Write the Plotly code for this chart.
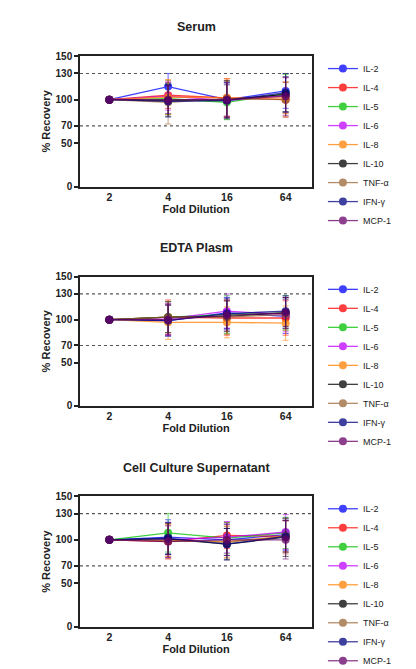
import plotly.graph_objects as go
from plotly.subplots import make_subplots

dilutions = ["2", "4", "16", "64"]
analytes = ["IL-2", "IL-4", "IL-5", "IL-6", "IL-8", "IL-10", "TNF-α", "IFN-γ", "MCP-1"]
colors = ["#0000ff", "#ff0000", "#00c000", "#c000ff", "#ff8000", "#000000", "#996633", "#000080", "#660066"]
titles = ["Serum", "EDTA Plasm", "Cell Culture Supernatant"]

serum = [[100,115,100,110],[100,105,102,100],[100,101,97,107],[100,104,99,105],[100,103,102,102],
         [100,99,100,106],[100,97,101,100],[100,98,99,108],[100,100,100,104]]
serum_err = [[0,15,20,20],[0,15,22,20],[0,18,20,22],[0,16,18,20],[0,20,22,18],
             [0,18,22,20],[0,25,20,20],[0,18,20,22],[0,16,20,22]]
plasma = [[100,99,108,104],[100,103,102,102],[100,103,106,108],[100,101,110,106],[100,97,97,96],
          [100,103,104,108],[100,103,103,106],[100,99,107,110],[100,100,105,108]]
plasma_err = [[0,18,18,20],[0,20,20,20],[0,18,22,20],[0,18,20,20],[0,20,18,20],
              [0,18,18,18],[0,18,20,18],[0,18,18,18],[0,18,18,18]]
super_ = [[100,103,100,106],[100,98,105,104],[100,108,102,108],[100,100,103,109],[100,99,98,104],
          [100,101,95,103],[100,99,97,104],[100,102,95,104],[100,98,100,100]]
super_err = [[0,20,18,18],[0,20,15,18],[0,22,18,18],[0,20,18,20],[0,18,18,18],
             [0,18,18,22],[0,20,18,20],[0,18,18,18],[0,18,18,22]]
datasets = [(serum, serum_err), (plasma, plasma_err), (super_, super_err)]

fig = make_subplots(rows=3, cols=1)
domains = [(0.737, 0.936), (0.404, 0.600), (0.067, 0.266)]
legnames = ["legend", "legend2", "legend3"]
F = "Arial"
for p, (vals, errs) in enumerate(datasets):
    r = p + 1
    for i, a in enumerate(analytes):
        fig.add_trace(go.Scatter(
            x=dilutions, y=vals[i], name=a, mode="lines+markers",
            line=dict(color=colors[i], width=1.3), opacity=0.75,
            marker=dict(color=colors[i], size=8),
            error_y=dict(type="data", array=errs[i], color=colors[i], thickness=0.8, width=3),
            legend=legnames[p]), row=r, col=1)
    xa = "xaxis" if r == 1 else f"xaxis{r}"
    ya = "yaxis" if r == 1 else f"yaxis{r}"
    fig.layout[xa].update(domain=[0.173, 0.731])
    fig.layout[ya].update(domain=list(domains[p]))
    fig.update_xaxes(row=r, col=1, type="category", range=[-0.5, 3.45], showgrid=False,
                     showline=True, linecolor="#222", linewidth=1.5, mirror=True, ticks="",
                     tickfont=dict(size=10.5, family=F, color="#222", weight="bold"),
                     title=dict(text="<b>Fold Dilution</b>", font=dict(size=11, family=F, color="#222"), standoff=2))
    fig.update_yaxes(row=r, col=1, range=[0, 150], tickvals=[0, 50, 70, 100, 130, 150],
                     showgrid=False, zeroline=False, showline=True, linecolor="#222", linewidth=1.5,
                     mirror=True, ticks="outside", ticklen=4, tickcolor="#222", tickwidth=1.5,
                     tickfont=dict(size=10, family=F, color="#222", weight="bold"),
                     title=dict(text="<b>% Recovery</b>", font=dict(size=11, family=F, color="#222"), standoff=3))
    for yv in (130, 70):
        fig.add_shape(type="line", xref=f"x{'' if r==1 else r} domain", yref=f"y{'' if r==1 else r}",
                      x0=0, x1=1, y0=yv, y1=yv, line=dict(color="#555", width=1.2, dash="dot"))
    fig.add_annotation(text=f"<b>{titles[p]}</b>", xref="paper", yref="paper", x=0.452,
                       y=domains[p][1] + 0.03, yanchor="bottom", showarrow=False,
                       font=dict(size=12.5, family=F, color="#222"))
    fig.layout[legnames[p]] = dict(x=0.757, y=domains[p][1] + 0.003, xanchor="left", yanchor="top",
                                   font=dict(size=9, family=F, color="#222"),
                                   bgcolor="rgba(0,0,0,0)", tracegroupgap=0, itemwidth=30)

fig.update_layout(width=416, height=669, margin=dict(l=0, r=0, t=0, b=0),
                  plot_bgcolor="white", paper_bgcolor="white", showlegend=True)
fig.write_html("out.html")
